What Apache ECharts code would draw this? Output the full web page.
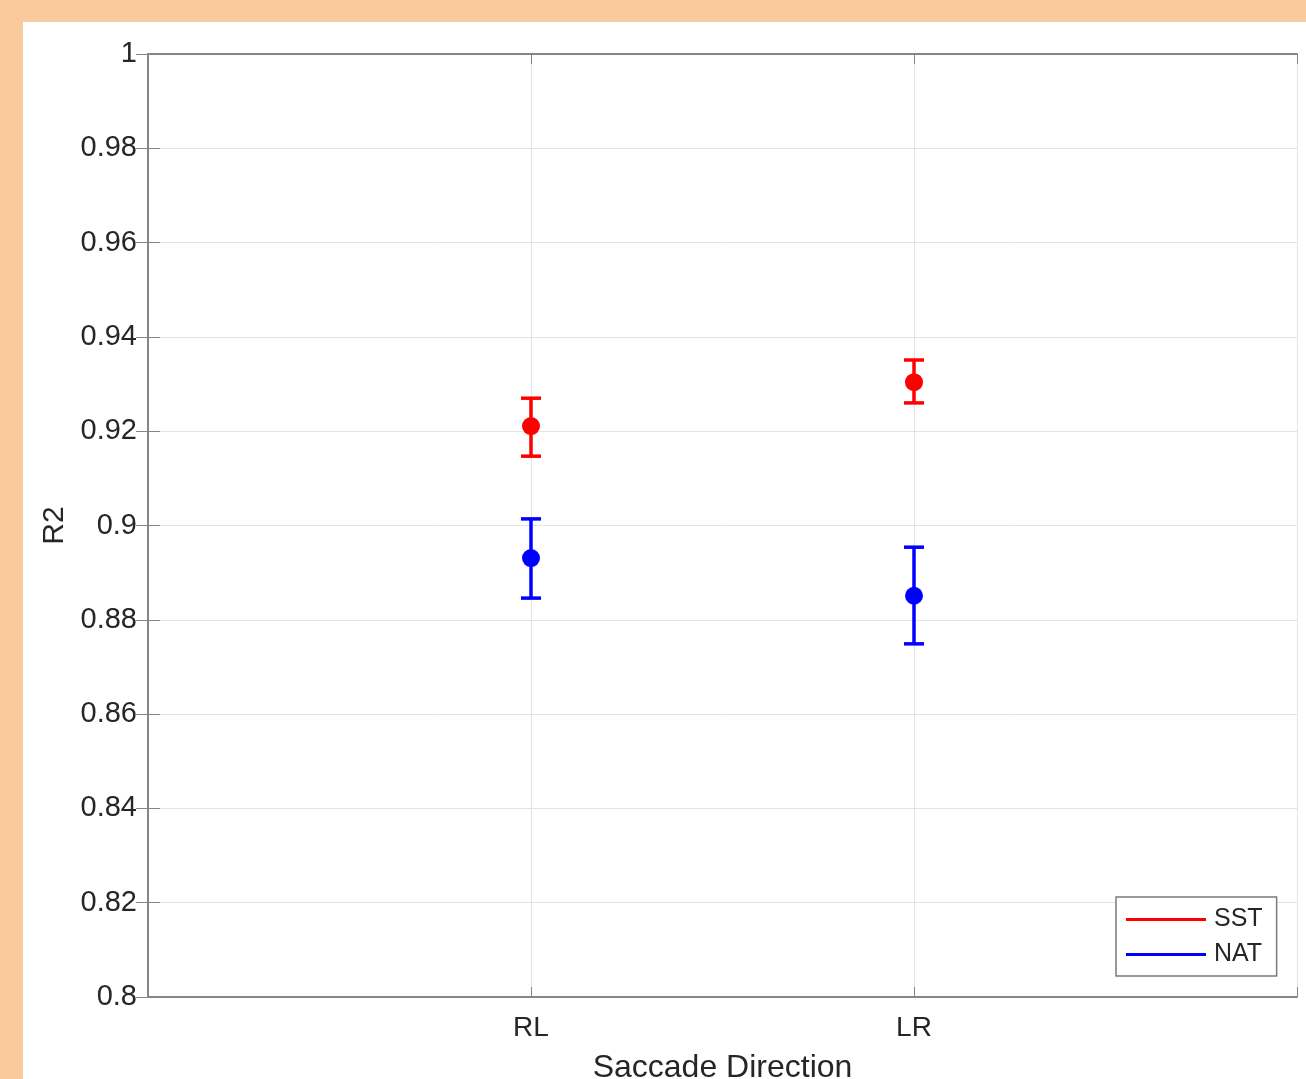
<!DOCTYPE html>
<html>
<head>
<meta charset="utf-8">
<script src="https://cdn.jsdelivr.net/npm/echarts@6/dist/echarts.min.js"></script>
<style>
html,body{margin:0;padding:0;background:#F9CB9C;width:1306px;height:1079px;overflow:hidden;}
#chart{position:absolute;left:23px;top:22px;width:1283px;height:1057px;background:#fff;}
</style>
</head>
<body>
<div id="chart"></div>
<script>
const categories = ['RL', 'LR'];
const categoryX = [1, 2];
const sstMean = [0.9211, 0.9304];
const sstLow = [0.9147, 0.9260];
const sstHigh = [0.9270, 0.9351];
const natMean = [0.8931, 0.8851];
const natLow = [0.8846, 0.8749];
const natHigh = [0.9014, 0.8954];

const chart = echarts.init(document.getElementById('chart'));
const font = 'Liberation Sans, Arial, Helvetica, sans-serif';
const boxColor = '#858585';
const textColor = '#262626';

function errSeries(name, color, low, high) {
  return {
    name: name,
    type: 'custom',
    z: 3,
    data: categoryX.map((x, i) => [x, low[i], high[i]]),
    renderItem: function (params, api) {
      const x = api.value(0);
      const lo = api.coord([x, api.value(1)]);
      const hi = api.coord([x, api.value(2)]);
      const hw = 10;
      const style = { stroke: color, lineWidth: 3.5, fill: null };
      return {
        type: 'group',
        children: [
          { type: 'line', shape: { x1: lo[0], y1: lo[1], x2: hi[0], y2: hi[1] }, style: style },
          { type: 'line', shape: { x1: lo[0] - hw, y1: lo[1], x2: lo[0] + hw, y2: lo[1] }, style: style },
          { type: 'line', shape: { x1: hi[0] - hw, y1: hi[1], x2: hi[0] + hw, y2: hi[1] }, style: style }
        ]
      };
    }
  };
}

const option = {
  animation: false,
  grid: { left: 125, top: 32, width: 1149, height: 943, containLabel: false, outerBoundsMode: 'none' },
  xAxis: [
    {
      type: 'value', min: 0, max: 3, interval: 1, position: 'bottom',
      name: 'Saccade Direction', nameLocation: 'middle', nameGap: 55,
      nameTextStyle: { fontFamily: font, fontSize: 32, color: textColor },
      axisLine: { show: true, lineStyle: { color: boxColor, width: 2 } },
      axisTick: { show: true, inside: true, length: 10, lineStyle: { color: boxColor, width: 1 } },
      axisLabel: {
        margin: 17, fontFamily: font, fontSize: 28, color: textColor,
        formatter: function (v) { const i = categoryX.indexOf(v); return i >= 0 ? categories[i] : ''; }
      },
      splitLine: { show: true, lineStyle: { color: '#e3e3e3', width: 1 } }
    },
    {
      type: 'value', min: 0, max: 3, interval: 1, position: 'top',
      axisLine: { show: true, lineStyle: { color: boxColor, width: 2 } },
      axisTick: { show: true, inside: true, length: 10, lineStyle: { color: boxColor, width: 1 } },
      axisLabel: { show: false }, splitLine: { show: false }
    }
  ],
  yAxis: [
    {
      type: 'value', min: 0.8, max: 1, interval: 0.02, position: 'left',
      name: 'R2', nameLocation: 'middle', nameGap: 74, nameRotate: 90,
      nameTextStyle: { fontFamily: font, fontSize: 30, color: textColor },
      axisLine: { show: true, lineStyle: { color: boxColor, width: 2 } },
      axisTick: { show: true, inside: true, length: 12, lineStyle: { color: boxColor, width: 1 } },
      axisLabel: { margin: 11, fontFamily: font, fontSize: 29, color: textColor, padding: [4, 0, 0, 0],
        formatter: function (v) { return String(Math.round(v * 100) / 100); } },
      splitLine: { show: true, lineStyle: { color: '#e3e3e3', width: 1 } }
    },
    {
      type: 'value', min: 0.8, max: 1, interval: 0.02, position: 'right',
      axisLine: { show: true, lineStyle: { color: boxColor, width: 2 } },
      axisTick: { show: true, inside: true, length: 12, lineStyle: { color: boxColor, width: 1 } },
      axisLabel: { show: false }, splitLine: { show: false }
    }
  ],
  legend: {
    left: 1093, top: 875,
    orient: 'vertical',
    backgroundColor: '#fff',
    borderColor: '#7a7a7a', borderWidth: 1.5, borderRadius: 0,
    padding: [10, 14, 9, 10],
    itemGap: 10,
    itemWidth: 80, itemHeight: 3,
    textStyle: { fontFamily: font, fontSize: 25, color: textColor, padding: [0, 0, 0, 3] },
    data: [
      { name: 'SST', icon: 'rect', itemStyle: { color: '#ff0000' } },
      { name: 'NAT', icon: 'rect', itemStyle: { color: '#0000ff' } }
    ]
  },
  series: [
    errSeries('SST', '#ff0000', sstLow, sstHigh),
    errSeries('NAT', '#0000ff', natLow, natHigh),
    {
      name: 'SST', type: 'scatter', z: 4, symbol: 'circle', symbolSize: 18,
      itemStyle: { color: '#ff0000', opacity: 1 },
      data: categoryX.map((x, i) => [x, sstMean[i]])
    },
    {
      name: 'NAT', type: 'scatter', z: 4, symbol: 'circle', symbolSize: 18,
      itemStyle: { color: '#0000ff', opacity: 1 },
      data: categoryX.map((x, i) => [x, natMean[i]])
    }
  ]
};
chart.setOption(option);
</script>
</body>
</html>
